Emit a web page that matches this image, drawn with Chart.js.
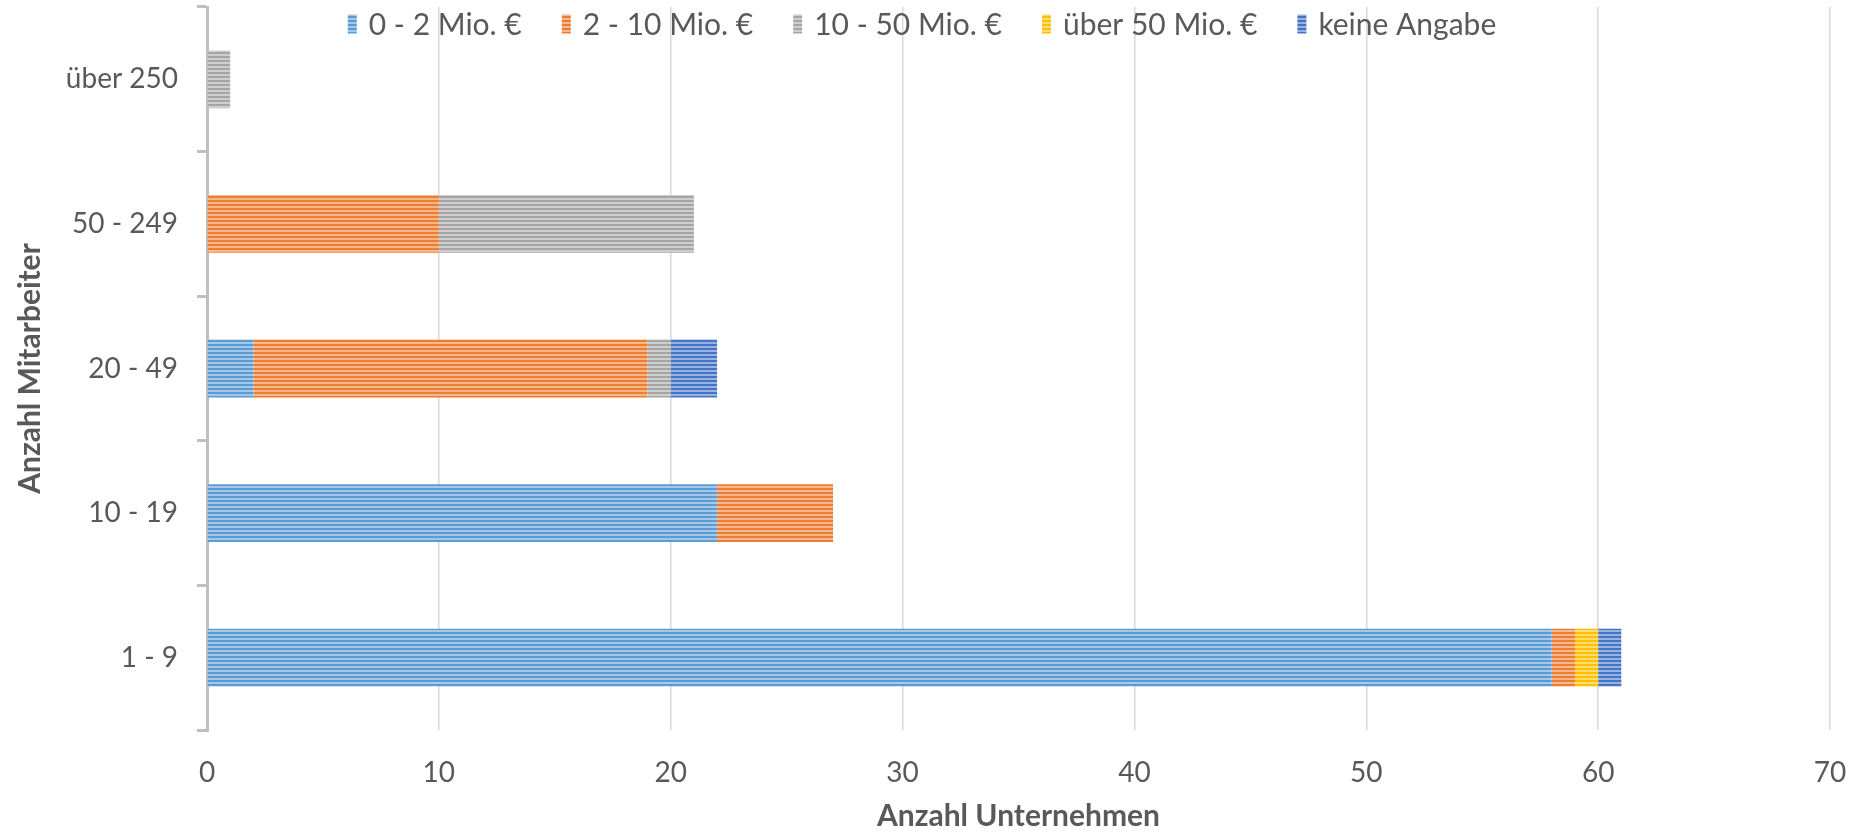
<!DOCTYPE html>
<html>
<head>
<meta charset="utf-8">
<script src="https://cdn.jsdelivr.net/npm/chart.js@4"></script>
<style>
  html, body { margin: 0; padding: 0; background: #fff; }
  #wrap { width: 1860px; height: 834px; }
</style>
</head>
<body>
<div id="wrap"><canvas id="umsatzChart" width="1860" height="834"></canvas></div>
<script>
// Kategorien (Anzahl Mitarbeiter), von unten nach oben
const categories = ['1 - 9', '10 - 19', '20 - 49', '50 - 249', 'über 250'];

// Umsatzklassen
const seriesNames = ['0 - 2 Mio. €', '2 - 10 Mio. €', '10 - 50 Mio. €', 'über 50 Mio. €', 'keine Angabe'];
const umsatz0bis2 = [58, 22, 2, 0, 0];
const umsatz2bis10 = [1, 5, 17, 10, 0];
const umsatz10bis50 = [0, 0, 1, 11, 1];
const umsatzUeber50 = [1, 0, 0, 0, 0];
const keineAngabe = [1, 0, 2, 0, 0];

const xTicks = [0, 10, 20, 30, 40, 50, 60, 70];

const seriesColors = ['#5B9BD5', '#ED7D31', '#A5A5A5', '#FFC000', '#4472C4'];
const textColor = '#595959';
const FONT = 'Lato, "Open Sans", sans-serif';

// horizontale Streifen wie im Excel-Muster
function stripes(color) {
    const c = document.createElement('canvas');
    c.width = 4; c.height = 4;
    const g = c.getContext('2d');
    g.fillStyle = '#fff';
    g.fillRect(0, 0, 4, 4);
    g.globalAlpha = 0.55;
    g.fillStyle = color;
    g.fillRect(0, 0, 4, 4);
    g.globalAlpha = 1;
    g.fillRect(0, 0, 4, 2);
    return g.createPattern(c, 'repeat');
}

const patterns = seriesColors.map(stripes);
const seriesData = [umsatz0bis2, umsatz2bis10, umsatz10bis50, umsatzUeber50, keineAngabe];

const datasets = seriesNames.map((name, i) => ({
    label: name,
    data: seriesData[i],
    backgroundColor: patterns[i],
    borderWidth: 0,
    barPercentage: 1,
    categoryPercentage: 0.4
}));

// Legende oben, über die ganze Breite zentriert
const topLegend = {
    id: 'topLegend',
    afterDraw(chart) {
        const ctx = chart.ctx;
        ctx.save();
        ctx.font = '30px ' + FONT;
        ctx.textBaseline = 'middle';
        const boxW = 9, boxH = 19, gapText = 12, gapItem = 40;
        const widths = seriesNames.map(n => boxW + gapText + ctx.measureText(n).width);
        const total = widths.reduce((a, b) => a + b, 0) + gapItem * (widths.length - 1);
        let x = 922 - total / 2;
        const y = 24;
        seriesNames.forEach((name, i) => {
            ctx.fillStyle = patterns[i];
            ctx.fillRect(x, y - boxH / 2, boxW, boxH);
            ctx.fillStyle = textColor;
            ctx.fillText(name, x + boxW + gapText, y + 1);
            x += widths[i] + gapItem;
        });
        ctx.restore();
    }
};

function drawChart() {
    const ctx = document.getElementById('umsatzChart').getContext('2d');
    new Chart(ctx, {
        type: 'bar',
        data: {
            labels: categories,
            datasets: datasets
        },
        options: {
            indexAxis: 'y',
            responsive: false,
            animation: false,
            layout: {
                padding: { top: 7, right: 30, left: 0, bottom: 0 }
            },
            plugins: {
                legend: { display: false },
                tooltip: { enabled: false }
            },
            scales: {
                x: {
                    stacked: true,
                    min: 0,
                    max: 70,
                    afterBuildTicks: scale => {
                        scale.ticks = xTicks.map(v => ({ value: v }));
                    },
                    afterFit: scale => {
                        scale.height = 104;
                        scale.paddingLeft = 0;
                        scale.paddingRight = 0;
                    },
                    border: { display: false },
                    grid: {
                        color: '#D9D9D9',
                        lineWidth: 1.5,
                        drawTicks: false
                    },
                    ticks: {
                        color: textColor,
                        padding: 26,
                        font: { family: FONT, size: 28 }
                    },
                    title: {
                        display: true,
                        text: 'Anzahl Unternehmen',
                        color: textColor,
                        padding: 0,
                        font: { family: FONT, size: 30, weight: 'bold' }
                    }
                },
                y: {
                    stacked: true,
                    reverse: true,
                    afterFit: scale => {
                        scale.width = 207;
                        scale.paddingTop = 0;
                        scale.paddingBottom = 0;
                    },
                    border: { display: true, color: '#BFBFBF', width: 3 },
                    grid: {
                        drawOnChartArea: false,
                        color: '#BFBFBF',
                        lineWidth: 3,
                        tickLength: 10
                    },
                    ticks: {
                        color: textColor,
                        padding: 19,
                        font: { family: FONT, size: 28 }
                    },
                    title: {
                        display: true,
                        text: 'Anzahl Mitarbeiter',
                        color: textColor,
                        padding: { top: 12, bottom: 0 },
                        font: { family: FONT, size: 30, weight: 'bold' }
                    }
                }
            }
        },
        plugins: [topLegend]
    });
}

if (document.fonts && document.fonts.load) {
    Promise.all([
        document.fonts.load('28px Lato'),
        document.fonts.load('bold 30px Lato')
    ]).then(drawChart, drawChart);
} else {
    drawChart();
}
</script>
</body>
</html>
